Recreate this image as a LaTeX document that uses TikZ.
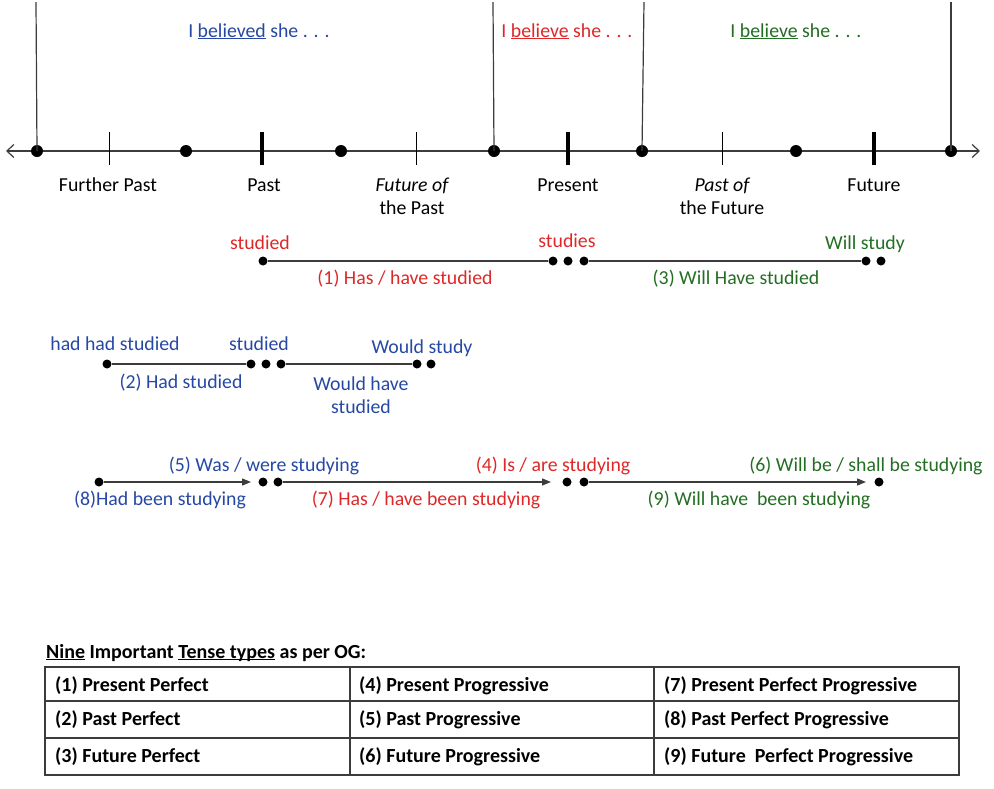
\documentclass[tikz,border=0pt]{standalone}
\usepackage{fontspec}
\setmainfont{Carlito}
\usetikzlibrary{arrows.meta}
\newcommand{\myul}[1]{$\underline{\smash{\hbox{#1}}}$}
\definecolor{tblue}{RGB}{38,72,165}
\definecolor{tred}{RGB}{222,40,40}
\definecolor{tgreen}{RGB}{35,110,35}
\definecolor{lgray}{RGB}{60,60,60}
\tikzset{
  lbl/.style={font=\fontsize{19.8}{23}\selectfont, inner sep=0pt, anchor=base},
  cell/.style={font=\fontsize{20}{23}\selectfont\bfseries, inner sep=0pt, anchor=base west},
  bigdot/.style={circle, fill=black, inner sep=0pt, minimum size=12pt},
  smdot/.style={circle, fill=black, inner sep=0pt, minimum size=9pt},
  conn/.style={draw=lgray, line width=1.3pt},
  arr/.style={conn, -{Triangle[length=9pt,width=7pt]}},
  vline/.style={draw=lgray, line width=1.2pt},
  thin tick/.style={draw=black, line width=1pt},
  thick tick/.style={draw=black, line width=4pt},
}
\begin{document}
\begin{tikzpicture}[x=1pt,y=-1pt]
\useasboundingbox (0,0) rectangle (994,788);
% timeline
\coordinate (tl) at (6,151);
\coordinate (tr) at (980,151);
\draw[line width=1.2pt, draw=lgray, {Straight Barb[length=7pt,width=13pt]}-{Straight Barb[length=7pt,width=13pt]}] (tl) -- (tr);
\node[bigdot] (d1) at (37,151) {};
\node[bigdot] (d2) at (186,151) {};
\node[bigdot] (d3) at (341,151) {};
\node[bigdot] (d4) at (494,151) {};
\node[bigdot] (d5) at (642,151) {};
\node[bigdot] (d6) at (796,151) {};
\node[bigdot] (d7) at (951,151) {};
% vertical dividers
\coordinate (v1) at (36,2);
\coordinate (v2) at (493,2);
\coordinate (v3) at (644,2);
\coordinate (v4) at (951,2);
\draw[vline] (v1) -- (d1.center);
\draw[vline] (v2) -- (d4.center);
\draw[vline] (v3) -- (d5.center);
\draw[vline] (v4) -- (d7.center);
% ticks
\draw[thin tick] (109,132) -- (109,165);
\draw[thin tick] (416,132) -- (416,165);
\draw[thin tick] (722,132) -- (722,165);
\draw[thick tick] (262,132) -- (262,165);
\draw[thick tick] (568,132) -- (568,165);
\draw[thick tick] (874,132) -- (874,165);
% top labels
\node[lbl, text=tblue] (tb) at (259,37) {I \myul{believed} she . . .};
\node[lbl, text=tred] (tr2) at (567,37) {I \myul{believe} she . . .};
\node[lbl, text=tgreen] (tg) at (796,37) {I \myul{believe} she . . .};
% timeline labels
\node[lbl] (lfp) at (108,191) {Further Past};
\node[lbl] (lp) at (264,191) {Past};
\node[lbl] (lfo) at (412,191) {\itshape Future of};
\node[lbl] (lfo2) at (412,214) {the Past};
\node[lbl] (lpr) at (568,191) {Present};
\node[lbl] (lpo) at (722,191) {\itshape Past of};
\node[lbl] (lpo2) at (722,214) {the Future};
\node[lbl] (lfu) at (874,191) {Future};
% row 1
\node[smdot] (a1) at (263,261) {};
\node[smdot] (a2) at (553,261) {};
\node[smdot] (a3) at (568,261) {};
\node[smdot] (a4) at (584,261) {};
\node[smdot] (a5) at (866,261) {};
\node[smdot] (a6) at (881,261) {};
\draw[conn] (a1) -- (a2);
\draw[conn] (a4) -- (a5);
\node[lbl, text=tred] (s1) at (260,249) {studied};
\node[lbl, text=tred] (s2) at (567,247) {studies};
\node[lbl, text=tgreen] (s3) at (865,249) {Will study};
\node[lbl, text=tred] (s4) at (405,284) {(1) Has / have studied};
\node[lbl, text=tgreen] (s5) at (736,284) {(3) Will Have studied};
% row 2
\node[smdot] (b1) at (107,364) {};
\node[smdot] (b2) at (251,364) {};
\node[smdot] (b3) at (266,364) {};
\node[smdot] (b4) at (281,364) {};
\node[smdot] (b5) at (417,364) {};
\node[smdot] (b6) at (431,364) {};
\draw[conn] (b1) -- (b2);
\draw[conn] (b4) -- (b5);
\node[lbl, text=tblue] (p1) at (115,350) {had had studied};
\node[lbl, text=tblue] (p2) at (259,350) {studied};
\node[lbl, text=tblue] (p3) at (422,353) {Would study};
\node[lbl, text=tblue] (p4) at (181,388) {(2) Had studied};
\node[lbl, text=tblue] (p5) at (361,390) {Would have};
\node[lbl, text=tblue] (p6) at (361,413) {studied};
% row 3
\node[smdot] (c1) at (99,482) {};
\node[smdot] (c2) at (263,482) {};
\node[smdot] (c3) at (278,482) {};
\node[smdot] (c4) at (567,482) {};
\node[smdot] (c5) at (584,482) {};
\node[smdot] (c6) at (879,482) {};
\coordinate (ct1) at (251,482);
\coordinate (ct2) at (551,482);
\coordinate (ct3) at (866,482);
\draw[arr] (c1) -- (ct1);
\draw[arr] (c3) -- (ct2);
\draw[arr] (c5) -- (ct3);
\node[lbl, text=tblue] (q1) at (264,471) {(5) Was / were studying};
\node[lbl, text=tblue] (q2) at (160,505) {(8)Had been studying};
\node[lbl, text=tred] (q3) at (426,505) {(7) Has / have been studying};
\node[lbl, text=tred] (q4) at (553,471) {(4) Is / are studying};
\node[lbl, text=tgreen] (q5) at (866,471) {(6) Will be / shall be studying};
\node[lbl, text=tgreen] (q6) at (759,505) {(9) Will have\ \ been studying};
% table
\node[cell] (th) at (46,658) {\myul{Nine} Important \myul{Tense types} as per OG:};
\draw[draw=lgray, line width=1.2pt] (45,667) rectangle (959,775);
\draw[draw=lgray, line width=1.2pt] (45,701) -- (959,701);
\draw[draw=lgray, line width=1.2pt] (45,738) -- (959,738);
\draw[draw=lgray, line width=1.2pt] (350,667) -- (350,775);
\draw[draw=lgray, line width=1.2pt] (654,667) -- (654,775);
\node[cell] (t11) at (55,691) {(1) Present Perfect};
\node[cell] (t21) at (55,725) {(2) Past Perfect};
\node[cell] (t31) at (55,762) {(3) Future Perfect};
\node[cell] (t12) at (359,691) {(4) Present Progressive};
\node[cell] (t22) at (359,725) {(5) Past Progressive};
\node[cell] (t32) at (359,762) {(6) Future Progressive};
\node[cell] (t13) at (664,691) {(7) Present Perfect Progressive};
\node[cell] (t23) at (664,725) {(8) Past Perfect Progressive};
\node[cell] (t33) at (664,762) {(9) Future\ \ Perfect Progressive};
\end{tikzpicture}
\end{document}
